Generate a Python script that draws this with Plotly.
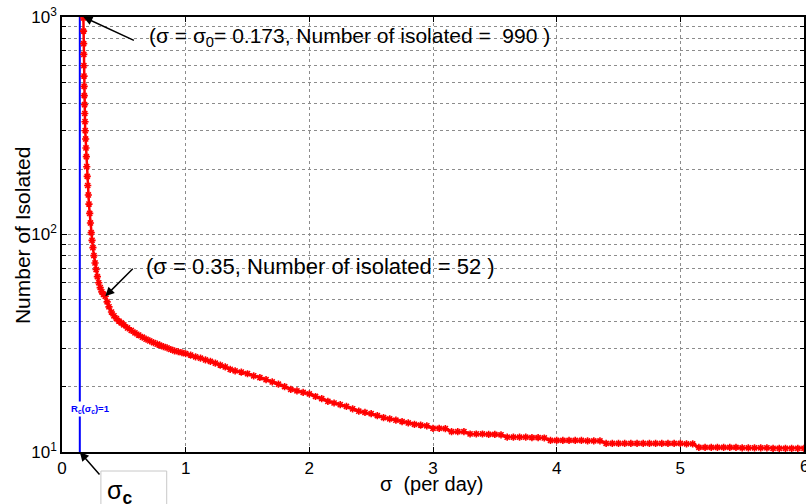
import plotly.graph_objects as go

# ---- data ----
sigma = [0.173, 0.174, 0.175, 0.176, 0.177, 0.178, 0.179, 0.180, 0.182, 0.184,
         0.186, 0.188, 0.191, 0.194, 0.197, 0.200, 0.204, 0.208, 0.213, 0.218,
         0.224, 0.230, 0.236, 0.243, 0.250, 0.258, 0.267, 0.276, 0.286, 0.297,
         0.309, 0.322, 0.336, 0.350, 0.365, 0.38, 0.40, 0.42, 0.44, 0.46,
         0.48, 0.50, 0.53, 0.56, 0.59, 0.62, 0.65, 0.68, 0.71, 0.74,
         0.77, 0.79, 0.82, 0.85, 0.88, 0.91, 0.94, 0.97, 1.00, 1.04,
         1.08, 1.12, 1.16, 1.20, 1.24, 1.28, 1.32, 1.36, 1.40, 1.45,
         1.50, 1.55, 1.60, 1.65, 1.70, 1.75, 1.80, 1.85, 1.90, 1.95,
         2.00, 2.05, 2.10, 2.15, 2.20, 2.25, 2.30, 2.35, 2.40, 2.45,
         2.50, 2.55, 2.60, 2.65, 2.70, 2.75, 2.80, 2.85, 2.90, 2.95,
         3.00, 3.05, 3.10, 3.15, 3.20, 3.25, 3.30, 3.35, 3.40, 3.45,
         3.50, 3.55, 3.60, 3.65, 3.70, 3.75, 3.80, 3.85, 3.90, 3.95,
         4.00, 4.05, 4.10, 4.15, 4.20, 4.25, 4.30, 4.35, 4.40, 4.45,
         4.50, 4.55, 4.60, 4.65, 4.70, 4.75, 4.80, 4.85, 4.90, 4.95,
         5.00, 5.05, 5.10, 5.15, 5.20, 5.25, 5.30, 5.35, 5.40, 5.45,
         5.50, 5.55, 5.60, 5.65, 5.70, 5.75, 5.80, 5.85, 5.90, 5.95,
         6.00]
isolated = [990, 861, 754, 673, 597, 535, 480, 435, 395, 360,
            330, 300, 275, 250, 228, 205, 185, 168, 152, 138,
            125, 113, 102, 94, 87, 80, 74, 69, 64, 60,
            57, 54.5, 53, 52, 49, 46.5, 44, 42.3, 41, 40,
            39.2, 38.4, 37.2, 36.2, 35.3, 34.5, 33.7, 33.0, 32.4, 31.8,
            31.3, 31.0, 30.5, 30.1, 29.6, 29.2, 28.9, 28.6, 28.3, 27.9,
            27.4, 27.0, 26.5, 26.1, 25.6, 25.1, 24.6, 24.0, 23.6, 23.3,
            22.9, 22.4, 22.0, 21.5, 21.0, 20.5, 20.0, 19.4, 19.1, 18.8,
            18.5, 18.0, 17.6, 17.1, 16.8, 16.5, 16.2, 15.8, 15.4, 15.2,
            15.0, 14.7, 14.4, 14.2, 14.0, 13.8, 13.6, 13.4, 13.3, 13.2,
            12.85, 12.85, 12.8, 12.4, 12.4, 12.4, 12.1, 12.1, 12.1, 12.05,
            12.05, 12.0, 11.7, 11.7, 11.7, 11.7, 11.65, 11.65, 11.6, 11.3,
            11.3, 11.3, 11.3, 11.3, 11.3, 11.25, 11.25, 11.25, 10.95, 10.95,
            10.95, 10.95, 10.95, 10.95, 10.95, 10.95, 10.95, 10.95, 10.95, 10.95,
            10.95, 10.9, 10.9, 10.5, 10.5, 10.5, 10.5, 10.5, 10.5, 10.5,
            10.45, 10.45, 10.45, 10.45, 10.45, 10.4, 10.4, 10.4, 10.4, 10.4,
            10.4]
sigma_c = 0.144
x_ticks = [0, 1, 2, 3, 4, 5]
y_major = [10, 100, 1000]
y_major_text = ["10<sup>1</sup>", "10<sup>2</sup>", "10<sup>3</sup>"]
y_minor = [20, 30, 40, 50, 60, 70, 80, 90, 200, 300, 400, 500, 600, 700, 800, 900]

FONT = "Liberation Sans, Arial, Helvetica, sans-serif"
GRID = dict(showgrid=True, gridcolor="#8c8c8c", griddash="dot", gridwidth=1)

# plot-area geometry in page pixels (for paper-referenced extras)
L, R, T, B = 62, 806, 17, 452


def px(xp):
    return (xp - L) / (R - L)


def py(yp):
    return (B - yp) / (B - T)


fig = go.Figure()

fig.add_trace(go.Scatter(
    x=[sigma_c, sigma_c], y=[10, 1000], mode="lines",
    line=dict(color="#0000ff", width=2), showlegend=False, hoverinfo="skip"))

fig.add_trace(go.Scatter(
    x=sigma, y=isolated, mode="lines+markers",
    line=dict(color="#ff0000", width=2.5),
    marker=dict(symbol="asterisk-open", size=6, color="#ff0000",
                line=dict(color="#ff0000", width=1.6)),
    showlegend=False))

fig.update_layout(
    width=806, height=504,
    margin=dict(l=L, r=806 - R, t=T, b=504 - B),
    paper_bgcolor="white", plot_bgcolor="white",
    font=dict(family=FONT, size=17, color="black"),
    xaxis=dict(
        range=[0, 6], tickvals=x_ticks, ticktext=[str(v) for v in x_ticks],
        ticks="inside", ticklen=5, tickcolor="black",
        showline=True, linecolor="black", linewidth=1.5, mirror="ticks",
        zeroline=False, tickfont=dict(size=17),
        **GRID,
    ),
    yaxis=dict(
        type="log", range=[1, 3],
        tickvals=y_major, ticktext=y_major_text,
        ticks="inside", ticklen=5, tickcolor="black",
        showline=True, linecolor="black", linewidth=1.5, mirror="ticks",
        zeroline=False, tickfont=dict(size=17),
        minor=dict(tickvals=y_minor, ticks="inside", ticklen=4, tickcolor="black",
                   **GRID),
        **GRID,
    ),
)

# axis titles placed precisely
fig.add_annotation(
    x=px(22), y=py(236), xref="paper", yref="paper", xanchor="center",
    yanchor="middle", text="Number of Isolated", textangle=-90,
    showarrow=False, font=dict(size=21))
fig.add_annotation(
    x=px(433), y=py(484), xref="paper", yref="paper", xanchor="center",
    yanchor="middle", text="σ  (per day)", showarrow=False, font=dict(size=20))

ARROW = dict(showarrow=True, arrowhead=2, arrowsize=1.2, arrowwidth=1.5,
             arrowcolor="black", text="", xref="x", yref="y")
# arrows
fig.add_annotation(x=0.173, y=3.0, ax=52, ay=24, **ARROW)
fig.add_annotation(x=0.35, y=1.716, ax=29, ay=-29, **ARROW)
fig.add_annotation(x=sigma_c, y=1.0, ax=21, ay=24, **ARROW)

# texts
fig.add_annotation(
    x=0.69, y=2.91, xref="x", yref="y", xanchor="left", yanchor="middle",
    text="(σ = σ<sub>0</sub>= 0.173, Number of isolated =  990 )",
    showarrow=False, font=dict(size=21))
fig.add_annotation(
    x=0.665, y=1.854, xref="x", yref="y", xanchor="left", yanchor="middle",
    text="(σ = 0.35, Number of isolated = 52 )",
    showarrow=False, font=dict(size=22))
fig.add_annotation(
    x=0.234, y=1.1975, xref="x", yref="y", xanchor="center", yanchor="middle",
    text="<b>R<sub>c</sub>(σ<sub>c</sub>)=1</b>", showarrow=False,
    bgcolor="white", font=dict(size=9.5, color="#0000ff"), borderpad=1)

# sigma_c label box below the axis
fig.add_shape(type="rect", xref="paper", yref="paper",
              x0=px(101), x1=px(167), y0=py(512), y1=py(471),
              line=dict(color="#c8c8c8", width=1), fillcolor="white", layer="above")
fig.add_annotation(
    x=px(105), y=py(474), xref="paper", yref="paper",
    xanchor="left", yanchor="top", align="left",
    text="σ<sub><b>c</b></sub>", showarrow=False, font=dict(size=25))

# the "6" tick label sits on the right edge of the page
fig.add_annotation(
    x=1.0, y=0, xref="paper", yref="paper", xanchor="center", yanchor="top",
    yshift=-3, text="6", showarrow=False, font=dict(size=17))

fig.write_html("out.html")
